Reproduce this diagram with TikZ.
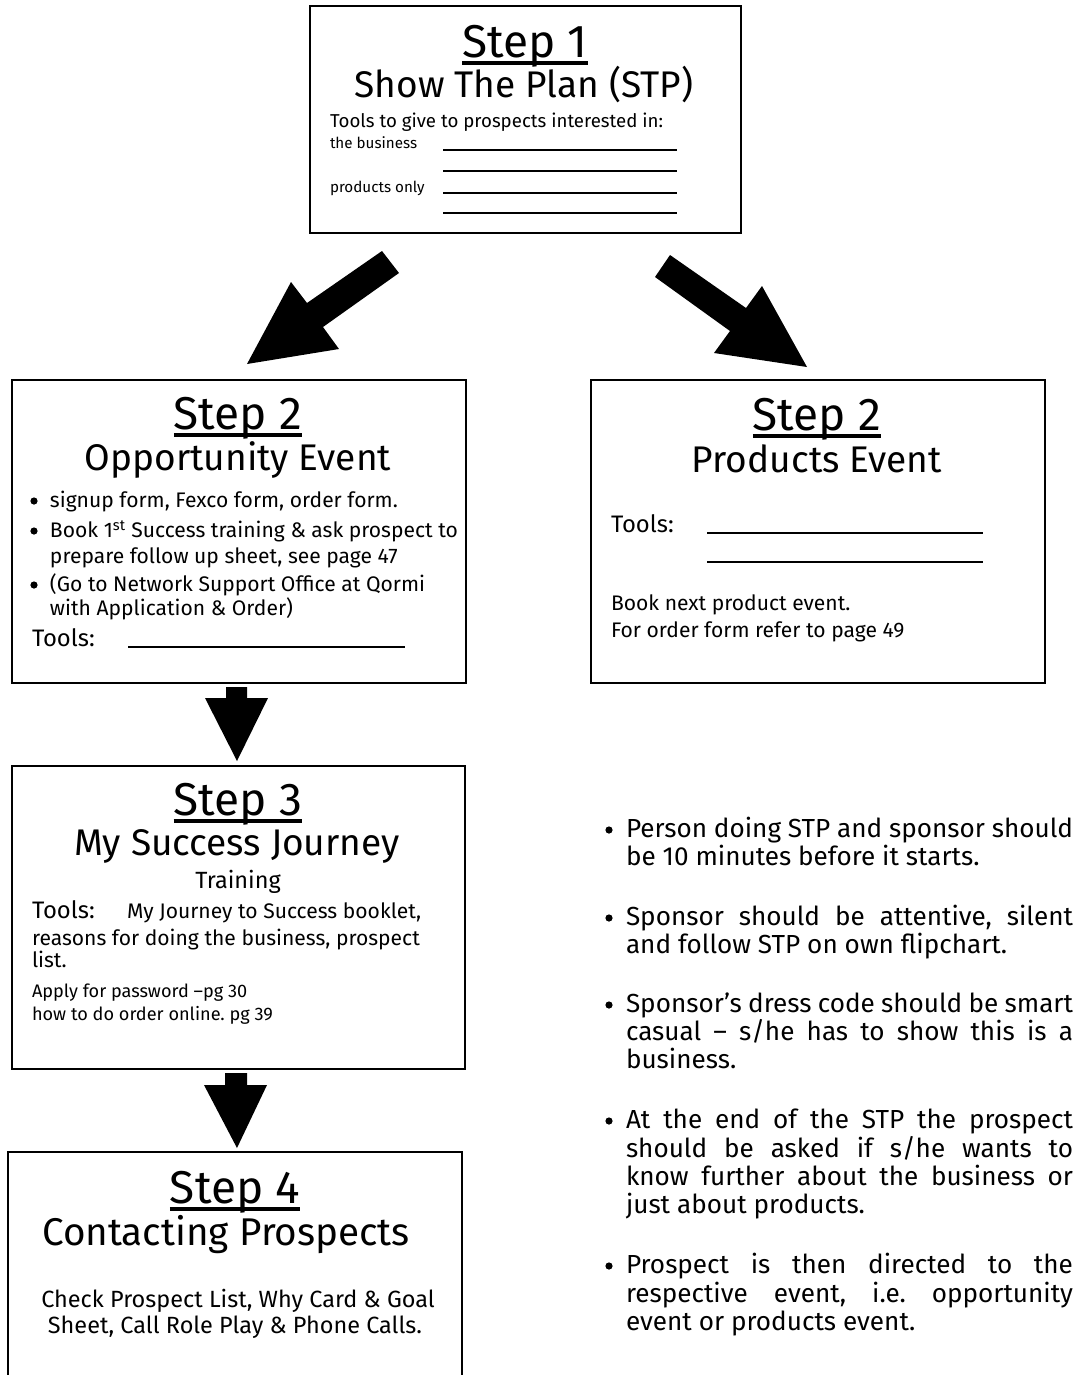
\documentclass[tikz,border=0pt]{standalone}
\usepackage{fontspec}
\setmainfont{Fira Sans}
\frenchspacing
\newcommand\jl[1]{\makebox[335.25pt][s]{#1}}
\begin{document}
\begin{tikzpicture}[x=0.75pt,y=-0.75pt,
  box/.style={draw=black, line width=1.4pt, rectangle, inner sep=0, anchor=north west},
  ttl/.style={inner sep=0, outer sep=0, anchor=base, font=\fontsize{34.5}{40}\selectfont},
  sub/.style={inner sep=0, outer sep=0, anchor=base, font=\fontsize{27.8}{32}\selectfont},
  tools/.style={inner sep=0, outer sep=0, anchor=base west, font=\fontsize{14}{17}\selectfont},
  small/.style={inner sep=0, outer sep=0, anchor=base west, font=\fontsize{11.4}{13}\selectfont},
  body/.style={inner sep=0, outer sep=0, anchor=base west, font=\fontsize{15.8}{19}\selectfont},
  bodyc/.style={inner sep=0, outer sep=0, anchor=base, font=\fontsize{17.6}{20}\selectfont},
  big/.style={inner sep=0, outer sep=0, anchor=base west, font=\fontsize{17.9}{21}\selectfont},
  note/.style={inner sep=0, outer sep=0, anchor=base west, font=\fontsize{19.6}{23}\selectfont},
  tiny/.style={inner sep=0, outer sep=0, anchor=base west, font=\fontsize{13.6}{16}\selectfont},
  uline/.style={line width=3pt},
  blank/.style={line width=1pt},
  dot/.style={circle, fill=black, inner sep=0, minimum size=5.4pt},
  blockarrow/.style={fill=black}
]
\useasboundingbox (0,0) rectangle (1075,1375);

% ---------- Step 1 ----------
\node[box, minimum width=323.25pt, minimum height=170.25pt] (s1) at (309,5) {};
\node[ttl] (t1) at (525,57) {Step 1};
\draw[uline] ([yshift=-4.7pt]t1.base west) -- ([yshift=-4.7pt]t1.base east);
\node[sub] (h1) at (524,97) {Show The Plan (STP)};
\node[tools] (a1) at (330,127) {Tools to give to prospects interested in:};
\node[small] (a2) at (330,148) {the business};
\node[small] (a3) at (330,192) {products only};
\coordinate (l1a) at (443,150); \coordinate (l1b) at (677,150);
\coordinate (l2a) at (443,171); \coordinate (l2b) at (677,171);
\coordinate (l3a) at (443,193); \coordinate (l3b) at (677,193);
\coordinate (l4a) at (443,213); \coordinate (l4b) at (677,213);
\draw[blank] (l1a) -- (l1b);
\draw[blank] (l2a) -- (l2b);
\draw[blank] (l3a) -- (l3b);
\draw[blank] (l4a) -- (l4b);

% ---------- diagonal arrows ----------
\fill[blockarrow] (382,251) -- (307,303) -- (291,282) -- (247,364) -- (339,349) -- (323,327) -- (399,273) -- cycle;
\fill[blockarrow] (670,255) -- (746,308) -- (762,286) -- (807,367) -- (714,353) -- (730,331) -- (655,277) -- cycle;

% ---------- Step 2 left ----------
\node[box, minimum width=340.5pt, minimum height=227.25pt] (s2a) at (11,379) {};
\node[ttl] (t2a) at (238,429) {Step 2};
\draw[uline] ([yshift=-4.7pt]t2a.base west) -- ([yshift=-4.7pt]t2a.base east);
\node[sub] (h2a) at (238,470) {Opportunity Event};
\node[dot] (d1) at (34,501) {};
\node[body] (o1) at (50,507) {signup form, Fexco form, order form.};
\node[dot] (d2) at (34,531) {};
\node[body] (o2) at (50,537) {Book 1\textsuperscript{st} Success training \& ask prospect to};
\node[body] (o3) at (50,563) {prepare follow up sheet, see page 47};
\node[dot] (d3) at (34,585) {};
\node[body] (o4) at (50,591) {(Go to Network Support Office at Qormi};
\node[body] (o5) at (50,615) {with Application \& Order)};
\node[big] (o6) at (32,646) {Tools:};
\coordinate (l5a) at (128,647); \coordinate (l5b) at (405,647);
\draw[blank] (l5a) -- (l5b);

% ---------- Step 2 right ----------
\node[box, minimum width=340.5pt, minimum height=227.25pt] (s2b) at (590,379) {};
\node[ttl] (t2b) at (817,430) {Step 2};
\draw[uline] ([yshift=-4.7pt]t2b.base west) -- ([yshift=-4.7pt]t2b.base east);
\node[sub] (h2b) at (817,472) {Products Event};
\node[big] (p1) at (611,532) {Tools:};
\coordinate (l6a) at (707,533); \coordinate (l6b) at (983,533);
\coordinate (l7a) at (707,562); \coordinate (l7b) at (983,562);
\draw[blank] (l6a) -- (l6b);
\draw[blank] (l7a) -- (l7b);
\node[body] (p2) at (611,610) {Book next product event.};
\node[body] (p3) at (611,637) {For order form refer to page 49};

% ---------- down arrow 1 ----------
\fill[blockarrow] (226,687) -- (247,687) -- (247,698) -- (268,698) -- (237,761) -- (205,698) -- (226,698) -- cycle;

% ---------- Step 3 ----------
\node[box, minimum width=339.75pt, minimum height=227.25pt] (s3) at (11,765) {};
\node[ttl] (t3) at (238,815) {Step 3};
\draw[uline] ([yshift=-4.7pt]t3.base west) -- ([yshift=-4.7pt]t3.base east);
\node[sub] (h3) at (237,855) {My Success Journey};
\node[bodyc] (m0) at (238,888) {Training};
\node[big] (m1) at (32,918) {Tools:};
\node[body] (m2) at (127,918) {My Journey to Success booklet,};
\node[body] (m3) at (32,945) {reasons for doing the business, prospect};
\node[body] (m4) at (32,967) {list.};
\node[tiny] (m5) at (32,997) {Apply for password –pg 30};
\node[tiny] (m6) at (32,1020) {how to do order online. pg 39};

% ---------- down arrow 2 ----------
\fill[blockarrow] (225,1073) -- (247,1073) -- (247,1085) -- (267,1085) -- (237,1148) -- (204,1085) -- (225,1085) -- cycle;

% ---------- Step 4 (open at bottom) ----------
\coordinate (s4bl) at (8,1375); \coordinate (s4tl) at (8,1152);
\coordinate (s4tr) at (462,1152); \coordinate (s4br) at (462,1375);
\draw[line width=1.4pt] (s4bl) -- (s4tl) -- (s4tr) -- (s4br);
\node[ttl] (t4) at (235,1203) {Step 4};
\draw[uline] ([yshift=-4.7pt]t4.base west) -- ([yshift=-4.7pt]t4.base east);
\node[sub, font=\fontsize{29}{33}\selectfont] (h4) at (226,1245) {Contacting Prospects};
\node[bodyc] (c1) at (238,1307) {Check Prospect List, Why Card \& Goal};
\node[bodyc] (c2) at (235,1333) {Sheet, Call Role Play \& Phone Calls.};

% ---------- right column notes ----------
\node[dot] (n1) at (609,830) {};
\node[note] (r1) at (626,837) {\jl{Person doing STP and sponsor should}};
\node[note] (r2) at (626,865) {be 10 minutes before it starts.};
\node[dot] (n2) at (609,918) {};
\node[note] (r3) at (626,925) {\jl{Sponsor should be attentive, silent}};
\node[note] (r4) at (626,953) {and follow STP on own flipchart.};
\node[dot] (n3) at (609,1005) {};
\node[note] (r5) at (626,1012) {\jl{Sponsor’s dress code should be smart}};
\node[note] (r6) at (626,1040) {\jl{casual – s/he has to show this is a}};
\node[note] (r7) at (626,1068) {business.};
\node[dot] (n4) at (609,1121) {};
\node[note] (r8) at (626,1128) {\jl{At the end of the STP the prospect}};
\node[note] (r9) at (626,1157) {\jl{should be asked if s/he wants to}};
\node[note] (r10) at (626,1185) {\jl{know further about the business or}};
\node[note] (r11) at (626,1213) {just about products.};
\node[dot] (n5) at (609,1266) {};
\node[note] (r12) at (626,1273) {\jl{Prospect is then directed to the}};
\node[note] (r13) at (626,1302) {\jl{respective event, i.e. opportunity}};
\node[note] (r14) at (626,1330) {event or products event.};
\end{tikzpicture}
\end{document}
